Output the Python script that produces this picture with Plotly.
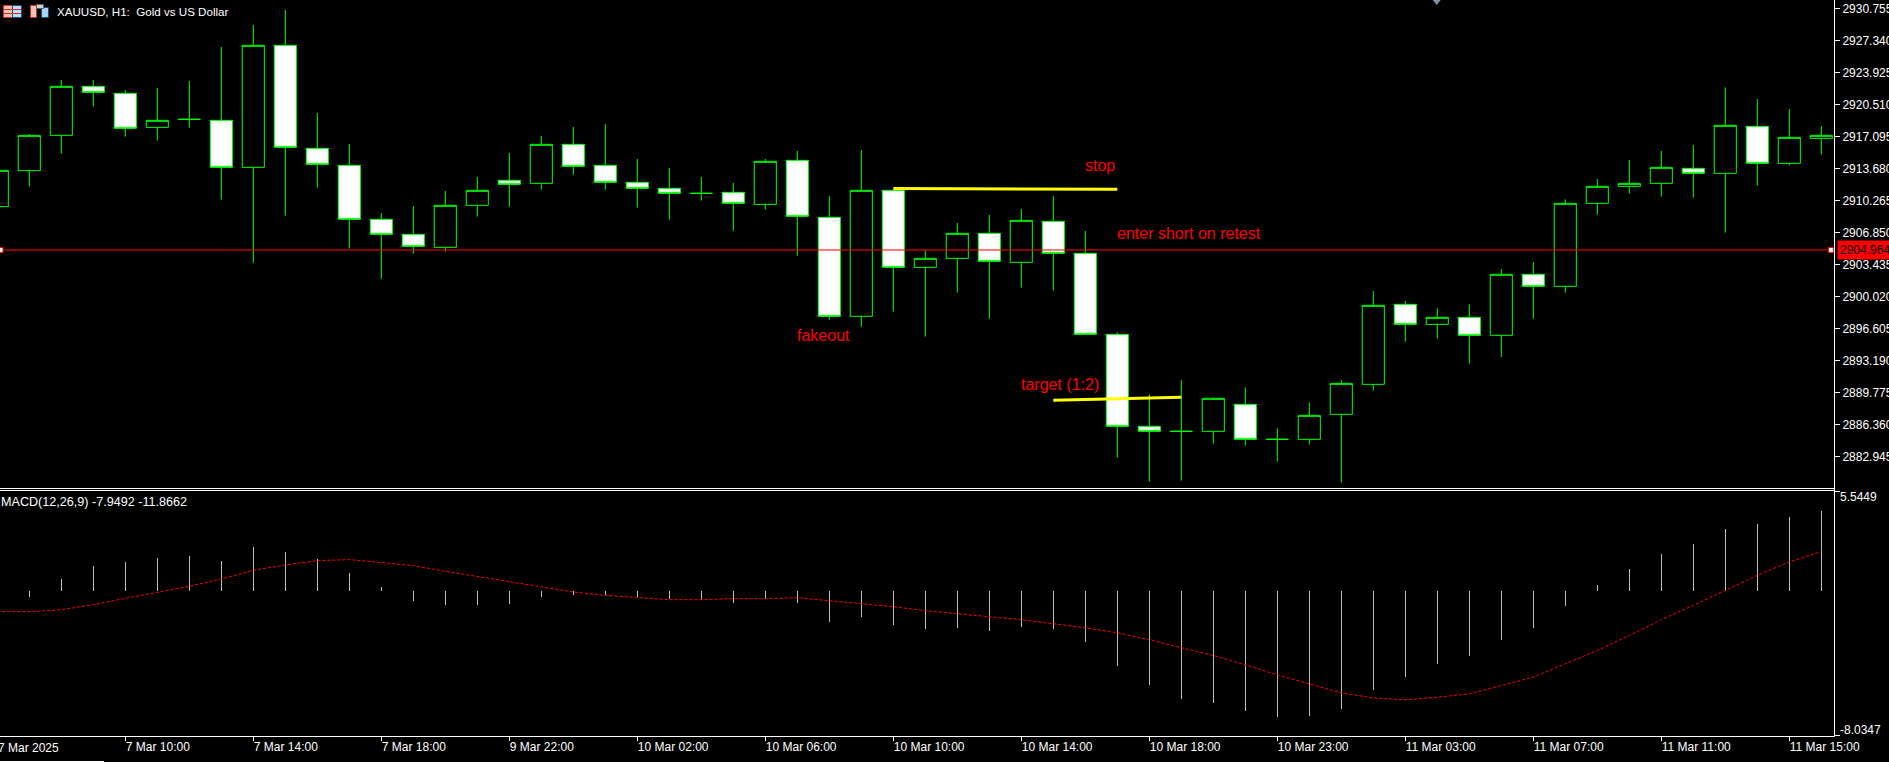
import plotly.graph_objects as go

# ---- data -------------------------------------------------------------
candle_index = list(range(58))
opens = [2909.586,2913.428,2917.198,2922.428,2921.681,2918.052,2918.906,2918.799,2913.783,2926.803,
         2915.811,2913.997,2908.234,2906.633,2905.246,2909.728,2912.396,2912.076,2916.238,2913.997,
         2912.183,2911.543,2911.009,2911.116,2909.835,2914.531,2908.448,2897.883,2911.329,2903.112,
         2904.072,2906.740,2903.645,2908.020,2904.605,2895.961,2886.143,2885.609,2885.609,2888.491,
         2884.756,2884.756,2887.424,2890.625,2899.163,2897.028,2897.775,2895.858,2902.368,2901.084,
         2909.941,2911.756,2912.076,2913.677,2913.143,2918.159,2914.210,2916.878]
highs = [2913.463,2917.341,2923.103,2923.103,2922.036,2922.250,2922.997,2926.625,2928.973,2930.574,
         2919.582,2916.273,2908.910,2909.657,2911.258,2912.752,2915.313,2917.127,2918.088,2918.408,
         2914.673,2913.712,2912.752,2912.112,2914.673,2915.527,2910.724,2915.633,2911.329,2904.926,
         2907.843,2908.697,2909.337,2910.724,2906.989,2896.175,2889.558,2891.088,2889.238,2890.305,
         2885.930,2888.704,2891.088,2900.586,2899.518,2898.736,2899.163,2902.933,2903.680,2910.368,
         2912.538,2914.566,2915.526,2916.167,2922.321,2921.076,2920.009,2918.194]
lows = [2909.586,2911.720,2915.242,2920.258,2917.056,2916.629,2918.017,2910.333,2903.609,2908.625,
        2911.613,2905.104,2901.902,2904.570,2904.783,2908.519,2909.586,2911.400,2913.001,2911.400,
        2909.479,2908.199,2910.226,2907.025,2909.266,2904.357,2897.527,2896.780,2898.381,2895.713,
        2900.408,2897.633,2900.941,2900.621,2895.961,2882.799,2880.238,2880.345,2884.293,2884.080,
        2882.372,2884.186,2880.131,2889.949,2895.179,2895.499,2892.831,2893.542,2897.629,2900.404,
        2908.732,2910.973,2910.653,2910.546,2906.811,2911.827,2913.997,2915.135]
closes = [2913.463,2917.198,2922.428,2921.787,2917.945,2918.799,2918.906,2913.783,2926.803,2915.918,
          2914.104,2908.234,2906.633,2905.353,2909.728,2911.329,2911.969,2916.238,2913.890,2912.183,
          2911.543,2911.009,2911.009,2909.942,2914.424,2908.554,2897.883,2911.329,2903.112,2904.072,
          2906.740,2903.752,2908.127,2904.605,2895.961,2886.143,2885.609,2885.609,2889.131,2884.756,
          2884.756,2887.317,2890.732,2899.056,2897.028,2897.775,2895.854,2902.368,2901.087,2909.941,
          2911.756,2912.076,2913.783,2913.143,2918.266,2914.210,2916.985,2917.198]

macd_hist = [-0.200,-0.343,0.640,1.364,1.586,1.809,1.920,1.642,2.421,2.143,
             1.753,0.974,0.195,-0.584,-0.807,-0.807,-0.751,-0.362,-0.250,-0.250,
             -0.362,-0.473,-0.492,-0.696,-0.455,-0.696,-1.753,-1.475,-1.920,-2.143,
             -2.087,-2.254,-2.031,-2.143,-2.866,-4.202,-5.204,-5.983,-6.205,-6.650,
             -6.984,-6.929,-6.539,-5.482,-4.758,-4.090,-3.645,-2.755,-2.087,-0.863,
             0.306,1.197,2.031,2.588,3.423,3.701,4.090,4.424]
macd_signal = [-1.159,-1.159,-1.048,-0.770,-0.417,-0.083,0.250,0.659,1.141,1.438,
               1.679,1.735,1.586,1.401,1.085,0.807,0.510,0.213,-0.065,-0.250,
               -0.380,-0.492,-0.492,-0.436,-0.436,-0.380,-0.547,-0.714,-0.881,-1.104,
               -1.271,-1.438,-1.605,-1.827,-2.050,-2.328,-2.718,-3.163,-3.590,-4.109,
               -4.666,-5.167,-5.667,-5.946,-6.057,-5.908,-5.723,-5.259,-4.795,-4.053,
               -3.311,-2.477,-1.605,-0.807,0.009,0.863,1.605,2.180]

price_ticks = [2930.755,2927.340,2923.925,2920.510,2917.095,2913.680,2910.265,2906.850,
               2903.435,2900.020,2896.605,2893.190,2889.775,2886.360,2882.945]
time_tick_index = [4,8,12,16,20,24,28,32,36,40,44,48,52,56]
time_tick_labels = ["7 Mar 10:00","7 Mar 14:00","7 Mar 18:00","9 Mar 22:00","10 Mar 02:00",
                    "10 Mar 06:00","10 Mar 10:00","10 Mar 14:00","10 Mar 18:00","10 Mar 23:00",
                    "11 Mar 03:00","11 Mar 07:00","11 Mar 11:00","11 Mar 15:00"]

current_price = 2904.964
price_line_x = [0.1, 57.3]
stop_x = [28, 35]
stop_y = [2911.52, 2911.44]
target_x = [33, 37]
target_y = [2888.92, 2889.24]
macd_top = 5.5449
macd_bottom = -8.0347

notes = [("stop", 33.97, 2914.0), ("enter short on retest", 34.97, 2906.74),
         ("target (1:2)", 31.97, 2890.63), ("fakeout", 24.97, 2895.89)]

# ---- layout geometry --------------------------------------------------
W, H = 1889, 763
PW, PH = 1834, 736
def px(x): return x / PW
def py(y): return (PH - y) / PH

FONT = "Liberation Sans"
GREEN = "#00FF00"
RED = "#FF0000"

fig = go.Figure()
fig.add_trace(go.Candlestick(
    x=candle_index, open=opens, high=highs, low=lows, close=closes,
    whiskerwidth=0,
    increasing=dict(line=dict(color=GREEN, width=1), fillcolor="#000000"),
    decreasing=dict(line=dict(color=GREEN, width=1), fillcolor="#FFFFFF"),
    xaxis="x", yaxis="y", showlegend=False))
fig.add_trace(go.Scatter(x=price_line_x, y=[current_price, current_price], mode="lines+markers",
    line=dict(color=RED, width=1),
    marker=dict(symbol="square", size=5, color="#FFFFFF", line=dict(color=RED, width=1)),
    xaxis="x", yaxis="y", showlegend=False, cliponaxis=False))
fig.add_trace(go.Scatter(x=stop_x, y=stop_y, mode="lines", line=dict(color="#FFFF00", width=3),
                         xaxis="x", yaxis="y", showlegend=False))
fig.add_trace(go.Scatter(x=target_x, y=target_y, mode="lines", line=dict(color="#FFFF00", width=3),
                         xaxis="x", yaxis="y", showlegend=False))
fig.add_trace(go.Bar(x=candle_index, y=macd_hist, width=0.032,
                     marker=dict(color="rgba(192,192,192,0.99)", line=dict(width=0)),
                     xaxis="x2", yaxis="y2", showlegend=False))
fig.add_trace(go.Scatter(x=candle_index, y=macd_signal, mode="lines",
                         line=dict(color=RED, width=1, dash="3px,2px"),
                         xaxis="x2", yaxis="y2", showlegend=False))

xrange = [2.7 / 32, (PW + 2.7) / 32]

annotations = []
for text, xv, yv in notes:
    annotations.append(dict(text=text, x=xv, y=yv, xref="x", yref="y", xanchor="left", yanchor="middle",
                            showarrow=False, font=dict(family=FONT, size=16, color=RED), borderpad=0))

def label(text, x, y, xanchor="left", yanchor="middle", color="#FFFFFF", size=12, **kw):
    annotations.append(dict(text=text, x=px(x), y=py(y), xref="paper", yref="paper", xanchor=xanchor,
                            yanchor=yanchor, showarrow=False, borderpad=0,
                            font=dict(family=FONT, size=size, color=color), **kw))

label("XAUUSD, H1:  Gold vs US Dollar", 56, 12, size=11.6)
label("MACD(12,26,9) -7.9492 -11.8662", 0, 501.7, size=12.6)
label("7 Mar 2025", -3, 748)
label(f"{macd_top:.4f}", 1839, 497)
label(f"{macd_bottom:.4f}", 1839, 729.7)
annotations.append(dict(text=f"{current_price:.3f}", x=px(1837), y=current_price, xref="paper", yref="y",
                        xanchor="left", yanchor="middle", showarrow=False, bgcolor=RED, borderpad=2,
                        font=dict(family=FONT, size=12, color="#000000")))

def rect(x0, y0, x1, y1, color, line=None):
    return dict(type="rect", xref="paper", yref="paper", x0=px(x0), x1=px(x1), y0=py(y0), y1=py(y1),
                fillcolor=color, line=dict(width=1 if line else 0, color=line or color), layer="above")
def hline(x0, x1, y, color="#FFFFFF", w=1):
    return dict(type="line", xref="paper", yref="paper", x0=px(x0), x1=px(x1), y0=py(y), y1=py(y),
                line=dict(color=color, width=w), layer="above")
def vline(x, y0, y1, color="#FFFFFF", w=1):
    return dict(type="line", xref="paper", yref="paper", x0=px(x), x1=px(x), y0=py(y0), y1=py(y1),
                line=dict(color=color, width=w), layer="above")

shapes = [
    vline(1834.5, 0, 736.5),
    hline(0, 1834.5, 488.5),
    hline(0, 1834.5, 490.5),
    hline(0, 1834.5, 736.5),
    hline(1834.5, 1840, 491.5),
    hline(1834.5, 1840, 735.5),
    rect(0, 761, 104, 763, "#FFFFFF"),
    hline(104, W, 762.5),
    # toolbar icons
    rect(3.5, 5.5, 12.5, 17.5, "#F5C0B5", "#D03020"),
    rect(12.5, 5.5, 21.5, 17.5, "#C0DDF5", "#104E8B"),
    hline(4, 21, 9.5, "#D03020"), hline(4, 21, 13.5, "#D03020"),
    rect(30.5, 5.5, 36.5, 17.5, "#F5C0B5", "#D03020"),
    rect(41.5, 7.5, 48.5, 17.5, "#A8D4F5", "#104E8B"),
    rect(36.5, 4.5, 43.5, 8.5, "#D0D0D0", "#606060"),
    # scroll marker at the top edge
    dict(type="path", xref="paper", yref="paper",
         path=f"M {px(1432.7)} {py(0)} L {px(1440.7)} {py(0)} L {px(1436.7)} {py(5)} Z",
         fillcolor="#7890A8", line=dict(width=0), layer="above"),
]

fig.update_layout(
    width=W, height=H, margin=dict(l=0, r=W - PW, t=0, b=H - PH, pad=0, autoexpand=False),
    paper_bgcolor="#000000", plot_bgcolor="#000000", showlegend=False, hovermode=False,
    bargap=0, boxgap=0.31, boxgroupgap=0,
    font=dict(family=FONT, size=12, color="#FFFFFF"),
    annotations=annotations, shapes=shapes,
    xaxis=dict(domain=[0, 1], range=xrange, showgrid=False, zeroline=False, showticklabels=False, ticks="",
               rangeslider=dict(visible=False), anchor="y", fixedrange=True),
    yaxis=dict(domain=[py(488), 1], range=[2931.641 - 0.10672 * 488, 2931.641], side="right", anchor="x",
               showgrid=False, zeroline=False, tickvals=price_ticks, tickformat=".3f", ticks="outside",
               ticklen=5, tickwidth=1, tickcolor="#FFFFFF", tickfont=dict(family=FONT, size=12, color="#FFFFFF"),
               fixedrange=True),
    xaxis2=dict(domain=[0, 1], range=xrange, showgrid=False, zeroline=False, anchor="y2",
                tickvals=time_tick_index, ticktext=time_tick_labels, ticks="outside", ticklen=4, tickwidth=1,
                tickcolor="#FFFFFF", tickfont=dict(family=FONT, size=12, color="#FFFFFF"),
                ticklabelposition="outside right", tickangle=0, fixedrange=True),
    yaxis2=dict(domain=[py(735.5), py(491)], range=[macd_bottom, macd_top], side="right", anchor="x2",
                showgrid=False, zeroline=False, showticklabels=False, ticks="", fixedrange=True),
)

fig.write_html("out.html", config=dict(displayModeBar=False, responsive=False),
               post_script="document.documentElement.style.background='#000';"
                           "document.body.style.margin='0';document.body.style.background='#000';"
                           "document.body.style.overflow='hidden';")
